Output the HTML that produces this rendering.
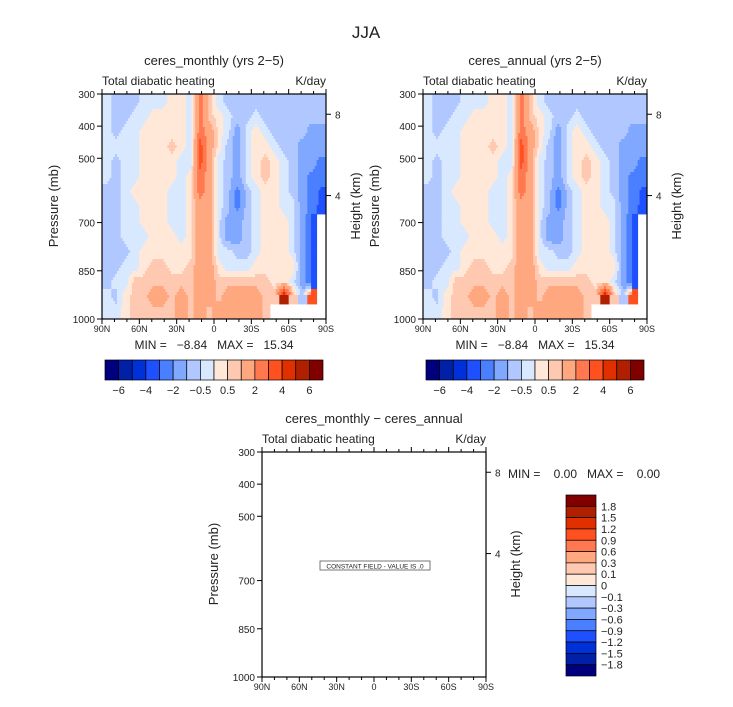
<!DOCTYPE html>
<html><head><meta charset="utf-8">
<style>
body{margin:0;background:#fff;}
svg text{font-family:"Liberation Sans",sans-serif;fill:#222;}
</style></head>
<body>
<svg id="chart" width="733" height="702" viewBox="0 0 733 702" xmlns="http://www.w3.org/2000/svg">
<text x="366" y="38" font-size="17" text-anchor="middle">JJA</text>
<g id="p1"></g>
<g id="p2"></g>
<g id="p3"></g>
</svg>
<script>
// ---- data ----
const latLabels = ["90N","60N","30N","0","30S","60S","90S"];
const presTicks = [300,400,500,700,850,1000];
const heightTicks = [{p:363,l:"8"},{p:616,l:"4"}];
const levels = [-6,-5,-4,-3,-2,-1,-0.5,0,0.5,1,2,3,4,5,6];
const levelColors = ["#00007f","#0020a8","#0030d8","#1e50ff","#4a80ff","#80a8ff","#b0c8ff","#d8e8ff","#ffe8d8","#ffc8b0","#ffa880","#ff7850","#ff5020","#e03000","#b02000","#800000"];
const cbLabels = ["-6","-4","-2","-0.5","0.5","2","4","6"];
const diffLabels = ["1.8","1.5","1.2","0.9","0.6","0.3","0.1","0","-0.1","-0.3","-0.6","-0.9","-1.2","-1.5","-1.8"];
const diffColors = ["#800000","#b02000","#e03000","#ff5020","#ff7850","#ffa880","#ffc8b0","#ffe8d8","#d8e8ff","#b0c8ff","#80a8ff","#4a80ff","#1e50ff","#0030d8","#0020a8","#00007f"];
// field values (K/day), rows 300mb->1000mb, columns 90N->90S
const lb=-0.3,mb=-0.7,b=-1.4,B=-2.4,BB=-3.3,BBB=-4.2,p=0.3,s=0.7,o=1.5,O=2.5,R=3.4,R5=5.5,N=null;
const field = [
[lb,mb,mb,mb,lb,lb,lb,p,p,lb,O,s,lb,mb,mb,mb,mb,mb,mb,mb,mb,mb,mb,mb],
[lb,mb,mb,lb,lb,p,p,p,p,lb,O,s,p,lb,mb,mb,lb,mb,mb,mb,mb,mb,mb,mb],
[lb,mb,lb,lb,p,p,p,p,p,lb,O,o,p,lb,b,lb,p,lb,mb,mb,mb,mb,b,b],
[lb,lb,lb,lb,p,p,p,s,p,lb,R,o,p,mb,b,lb,p,p,lb,mb,mb,b,b,b],
[lb,mb,lb,lb,p,p,p,p,lb,lb,R,o,lb,mb,b,lb,p,s,p,lb,mb,b,b,B],
[lb,mb,lb,lb,p,p,p,p,lb,p,O,o,lb,mb,b,lb,p,s,p,lb,mb,b,B,B],
[mb,mb,lb,p,p,p,p,lb,lb,p,O,o,lb,mb,B,mb,lb,p,p,lb,mb,b,B,BB],
[mb,mb,lb,lb,p,p,p,lb,lb,p,o,o,lb,mb,B,mb,lb,p,p,lb,lb,b,B,BB],
[mb,mb,lb,lb,p,p,p,lb,lb,p,o,o,lb,b,b,mb,lb,p,p,p,lb,b,BB,N],
[mb,mb,lb,lb,lb,p,p,p,lb,p,o,o,lb,b,b,mb,lb,p,p,p,lb,b,BB,N],
[mb,mb,mb,lb,p,p,p,p,p,p,o,o,lb,lb,mb,mb,lb,p,p,p,lb,b,BB,N],
[mb,mb,lb,lb,p,s,s,p,p,s,o,o,p,lb,lb,lb,p,p,p,p,p,b,BB,N],
[mb,lb,lb,s,s,s,s,s,s,s,o,o,s,s,s,s,s,s,p,p,lb,b,BB,N],
[lb,mb,p,s,s,o,o,s,o,s,o,o,s,o,o,o,o,s,s,R5,s,mb,R,N],
[lb,lb,p,s,s,s,s,s,o,s,o,s,o,o,o,o,o,s,N,N,N,N,N,N]
];
// ---- helpers ----
const NS="http://www.w3.org/2000/svg";
function mk(parent,tag,attrs){const e=document.createElementNS(NS,tag);for(const k in attrs)e.setAttribute(k,attrs[k]);parent.appendChild(e);return e;}
function colorFor(v){let i=0;while(i<levels.length&&v>=levels[i])i++;return levelColors[i];}
function xScale(x0,i){return x0+i*224/6;}
function pScale(y0,pr){return y0+(pr-300)/700*225;}

function drawField(g,x0,y0){
  const nr=field.length,nc=field[0].length,cw=224/nc,ch=225/nr,sub=5;
  const fg=mk(g,'g',{});
  
  
  function val(r,c){r=Math.max(0,Math.min(nr-1,r));c=Math.max(0,Math.min(nc-1,c));return field[r][c];}
  for(let r=0;r<nr;r++)for(let c=0;c<nc;c++)for(let a=0;a<sub;a++)for(let bb=0;bb<sub;bb++){
    const fy=r+(a+0.5)/sub-0.5, fx=c+(bb+0.5)/sub-0.5;
    const r0=Math.floor(fy),c0=Math.floor(fx),ty=fy-r0,tx=fx-c0;
    const v00=val(r0,c0),v01=val(r0,c0+1),v10=val(r0+1,c0),v11=val(r0+1,c0+1);
    let v;
    if(field[r][c]===null)v=null;
    else if(v00===null||v01===null||v10===null||v11===null)v=field[r][c];
    else v=(v00*(1-tx)+v01*tx)*(1-ty)+(v10*(1-tx)+v11*tx)*ty;
    if(v===null)continue;
    const rc=mk(fg,'rect',{x:(x0+c*cw+bb*cw/sub).toFixed(2),y:(y0+r*ch+a*ch/sub).toFixed(2),width:(cw/sub+0.4).toFixed(2),height:(ch/sub+0.4).toFixed(2),fill:colorFor(v)});
    
    
  }
}
function txt(g,x,y,t,size,anchor,name,rot){
  const e=mk(g,'text',{x:x,y:y,'font-size':size,'text-anchor':anchor||'start'});
  if(rot)e.setAttribute('transform','rotate(-90 '+x+' '+y+')');
  e.textContent=t;
  
  
  return e;
}
function drawAxes(g,x0,y0,title){
  const cx=x0+112;
  txt(g,cx,y0>400?423:65,title,13,'middle','panel-title');
  const ty=y0-9;
  txt(g,x0,ty,'Total diabatic heating',12,'start','field-name');
  txt(g,x0+224,ty,'K/day',12,'end','units-label');
  const fr=mk(g,'rect',{x:x0,y:y0,width:224,height:225,fill:'none',stroke:'#000','stroke-width':1.2});
  
  
  const tg=mk(g,'g',{stroke:'#000','stroke-width':1});
  
  
  for(let k=0;k<=18;k++){
    const x=x0+k*224/18,len=(k%3===0)?5:3;
    mk(tg,'line',{x1:x,y1:y0+225,x2:x,y2:y0+225+len});
    mk(tg,'line',{x1:x,y1:y0,x2:x,y2:y0-len});
  }
  latLabels.forEach((l,i)=>txt(g,xScale(x0,i),y0+238,l,9,'middle','x-tick-label'));
  presTicks.forEach(pr=>{const y=pScale(y0,pr);mk(tg,'line',{x1:x0-5,y1:y,x2:x0,y2:y});txt(g,x0-7,y+4,String(pr),10,'end','y-tick-label');});
  heightTicks.forEach(h=>{const y=pScale(y0,h.p);mk(tg,'line',{x1:x0+224,y1:y,x2:x0+229,y2:y});txt(g,x0+233,y+4,h.l,10,'start','height-tick-label');});
  txt(g,x0-44,y0+112,'Pressure (mb)',13,'middle','y-axis-title',true);
  txt(g,x0+258,y0+112,'Height (km)',13,'middle','height-axis-title',true);
}
function drawHBar(g,x0,y0){
  const w=218/16;
  const cb=mk(g,'g',{});
  
  
  levelColors.forEach((c,i)=>{const r=mk(cb,'rect',{x:x0+i*w,y:y0,width:w,height:20,fill:c,stroke:'#000','stroke-width':0.7});});
  cbLabels.forEach((l,i)=>txt(g,x0+(1+2*i)*w,y0+34,l.replace('-','\u2212'),11,'middle','colorbar-label'));
}
const S='\u00a0';
function panel(id,x0,title){
  const g=document.getElementById(id);
  drawField(g,x0,94);
  drawAxes(g,x0,94,title);
  txt(g,x0+112,349,'MIN ='+S+S+S+'\u22128.84'+S+S+S+'MAX ='+S+S+S+'15.34',12,'middle','min-max-label');
  drawHBar(g,x0+3,360);
}
panel('p1',102,'ceres_monthly (yrs 2\u22125)');
panel('p2',423,'ceres_annual (yrs 2\u22125)');
// difference panel
const g3=document.getElementById('p3');
drawAxes(g3,262,452,'ceres_monthly \u2212 ceres_annual');
const box=mk(g3,'rect',{x:320,y:561,width:110,height:9,fill:'#fff',stroke:'#555','stroke-width':0.8});


txt(g3,375,568.5,'CONSTANT FIELD - VALUE IS .0',6.5,'middle','constant-field-label');
txt(g3,508,478,'MIN ='+S+S+S+S+'0.00'+S+S+S+'MAX ='+S+S+S+S+'0.00',12,'start','min-max-label');
const vb=mk(g3,'g',{});


const vh=181/16;
diffColors.forEach((c,i)=>{const r=mk(vb,'rect',{x:566,y:495+i*vh,width:30,height:vh,fill:c,stroke:'#000','stroke-width':0.7});});
diffLabels.forEach((l,i)=>txt(g3,601,495+(i+1)*vh+4,l.replace('-','\u2212'),11,'start','colorbar-label'));
</script>
</body></html>
